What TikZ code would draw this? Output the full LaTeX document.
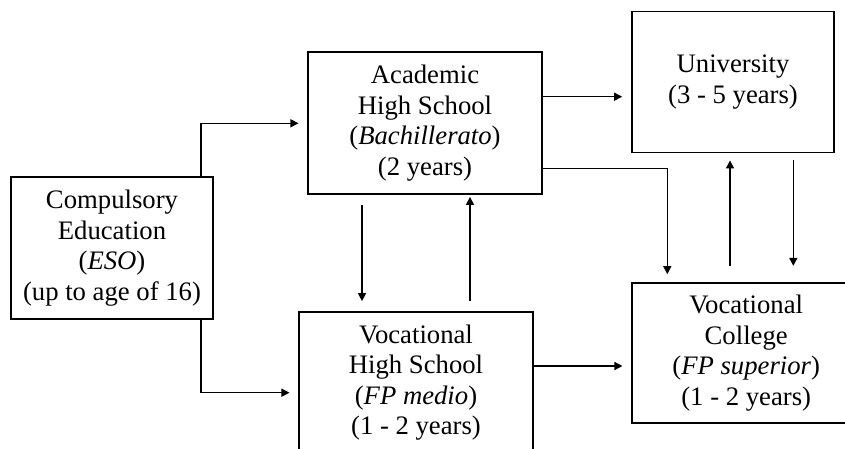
\documentclass[tikz,border=0pt]{standalone}
\usepackage{fontspec}
\setmainfont{Liberation Serif}
\usetikzlibrary{arrows.meta}
\begin{document}
\begin{tikzpicture}[x=1pt,y=-1pt,
  box/.style={draw,line width=1.7pt,align=center,inner sep=0pt,
    font=\fontsize{26.7}{30.5}\selectfont},
  conn/.style={line width=1.4pt,-{Triangle[length=8pt,width=8pt]}},
]
\useasboundingbox (0,0) rectangle (845,448);
\clip (0,0) rectangle (845,448);
\node[box,minimum width=202.6pt,minimum height=141.7pt] (comp) at (112,248)
  {Compulsory\\Education\\(\textit{ESO})\\(up to age of 16)};
\node[box,minimum width=233.4pt,minimum height=142.3pt] (acad) at (425,122.9)
  {Academic\\High School\\(\textit{Bachillerato})\\(2 years)};
\node[box,minimum width=202.6pt,minimum height=141.2pt] (univ) at (733,82)
  {University\\(3 - 5 years)};
\node[box,minimum width=233.4pt,minimum height=142pt] (vhs) at (416,382.7)
  {Vocational\\High School\\(\textit{FP medio})\\(1 - 2 years)};
\node[box,minimum width=229pt,minimum height=140.6pt] (vc) at (746.2,353)
  {Vocational\\College\\(\textit{FP superior})\\(1 - 2 years)};
\coordinate (c1) at (201,123.3);
\coordinate (c2) at (201,392.7);
\coordinate (c3) at (0,96.7);
\coordinate (c4) at (667.3,168.3);
\coordinate (c5) at (362,0);
\coordinate (c6) at (470,0);
\coordinate (c7) at (0,366);
\coordinate (c8) at (730,0);
\coordinate (c9) at (793.3,0);
\draw[conn,shorten >=9pt] (comp.north -| c1) |- (acad.west |- c1);
\draw[conn,shorten >=9pt] (comp.south -| c2) |- (vhs.west |- c2);
\draw[conn,shorten >=8.7pt] (acad.east |- c3) -- (univ.west |- c3);
\draw[conn,shorten >=7.7pt] (acad.east |- c4) -| (vc.north -| c4);
\draw[conn,shorten <=10pt,shorten >=9.7pt] (acad.south -| c5) -- (vhs.north -| c5);
\draw[conn,shorten <=9.7pt,shorten >=2pt] (vhs.north -| c6) -- (acad.south -| c6);
\draw[conn,shorten >=8.4pt] (vhs.east |- c7) -- (vc.west |- c7);
\draw[conn,shorten <=16pt,shorten >=7pt] (vc.north -| c8) -- (univ.south -| c8);
\draw[conn,shorten <=7pt,shorten >=16pt] (univ.south -| c9) -- (vc.north -| c9);
\end{tikzpicture}
\end{document}
